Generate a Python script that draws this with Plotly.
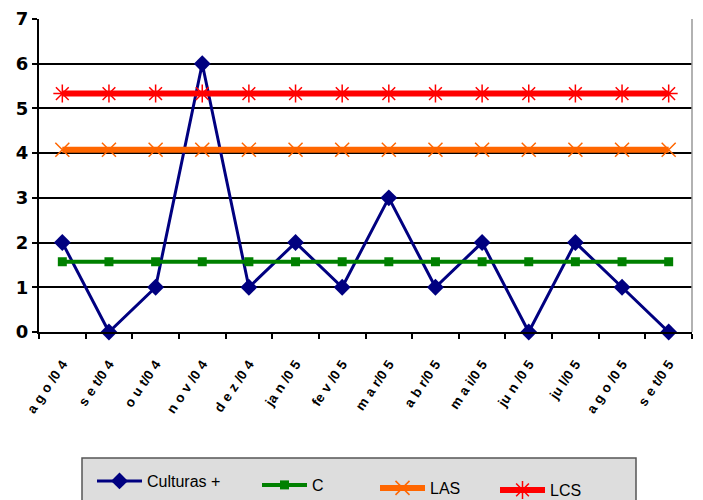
import plotly.graph_objects as go

# Monthly c-chart of positive cultures with centre line and limits
S = "\u2004"
meses = [S.join(p) for p in [
    ["a", "g", "o", "/0", "4"], ["s", "e", "t/0", "4"], ["o", "u", "t/0", "4"],
    ["n", "o", "v", "/0", "4"], ["d", "e", "z", "/0", "4"], ["ja", "n", "/0", "5"],
    ["fe", "v", "/0", "5"], ["m", "a", "r/0", "5"], ["a", "b", "r/0", "5"],
    ["m", "a", "i/0", "5"], ["ju", "n", "/0", "5"], ["ju", "l/0", "5"],
    ["a", "g", "o", "/0", "5"], ["s", "e", "t/0", "5"]]]
culturas = [2, 0, 1, 6, 1, 2, 1, 3, 1, 2, 0, 2, 1, 0]
c_media = [1.571] * 14
las = [4.078] * 14
lcs = [5.332] * 14

W, H = 703, 500
ml, mr, mt, mb = 39, 11, 19, 168
pw, ph = W - ml - mr, H - mt - mb

def px_x(x):
    return (x - ml) / pw

def px_y(y):
    return (H - mb - y) / ph

fig = go.Figure()
fig.add_trace(go.Scatter(x=meses, y=culturas, name="Culturas +", mode="lines+markers",
                         line=dict(color="#000080", width=3),
                         marker=dict(symbol="diamond", size=13, color="#000080"),
                         cliponaxis=False, legend="legend"))
fig.add_trace(go.Scatter(x=meses, y=c_media, name="C", mode="lines+markers",
                         line=dict(color="#008000", width=4),
                         marker=dict(symbol="square", size=9, color="#008000"),
                         cliponaxis=False, legend="legend2"))
fig.add_trace(go.Scatter(x=meses, y=las, name="LAS", mode="lines+markers",
                         line=dict(color="#FF6600", width=6),
                         marker=dict(symbol="x-thin-open", size=14,
                                     line=dict(color="#FF6600", width=1.5)),
                         cliponaxis=False, legend="legend3"))
fig.add_trace(go.Scatter(x=meses, y=lcs, name="LCS", mode="lines+markers",
                         line=dict(color="#FF0000", width=6),
                         marker=dict(symbol="asterisk-open", size=15,
                                     line=dict(color="#FF0000", width=1.5)),
                         cliponaxis=False, legend="legend4"))

leg_common = dict(orientation="h", xanchor="left", yanchor="middle",
                  bgcolor="rgba(0,0,0,0)", borderwidth=0, itemwidth=45,
                  font=dict(family="Liberation Sans, Arial", size=16, color="black"))

fig.update_layout(
    width=W, height=H,
    margin=dict(l=ml, r=mr, t=mt, b=mb, autoexpand=False),
    paper_bgcolor="white", plot_bgcolor="white",
    showlegend=True,
    legend=dict(x=px_x(92), y=px_y(481), **leg_common),
    legend2=dict(x=px_x(257), y=px_y(485), **leg_common),
    legend3=dict(x=px_x(375), y=px_y(488), **leg_common),
    legend4=dict(x=px_x(495), y=px_y(490), **leg_common),
    xaxis=dict(type="category", showline=True, linecolor="black", linewidth=2,
               ticks="outside", tickson="boundaries", ticklen=5, tickwidth=2,
               tickcolor="black", showgrid=False, tickangle=-56,
               ticklabelstandoff=17,
               tickfont=dict(family="Liberation Sans, Arial", size=13.5,
                             color="black", weight="bold"),
               range=[-0.5, 13.5], automargin=False),
    yaxis=dict(range=[0, 7], dtick=1, showline=True, linecolor="black", linewidth=2,
               ticks="outside", ticklen=5, tickwidth=2, tickcolor="black",
               showgrid=True, gridcolor="black", gridwidth=2, zeroline=False,
               automargin=False,
               tickfont=dict(family="DejaVu Sans", size=18,
                             color="black", weight="bold")),
    shapes=[
        dict(type="line", xref="paper", yref="paper", x0=1, x1=1, y0=0, y1=1,
             line=dict(color="#999999", width=1.5)),
        dict(type="rect", xref="paper", yref="paper",
             x0=px_x(82), x1=px_x(636), y0=px_y(458), y1=px_y(503),
             fillcolor="#dddddd", line=dict(color="#555555", width=1.5),
             layer="below"),
    ],
)

fig.write_html("out.html")
